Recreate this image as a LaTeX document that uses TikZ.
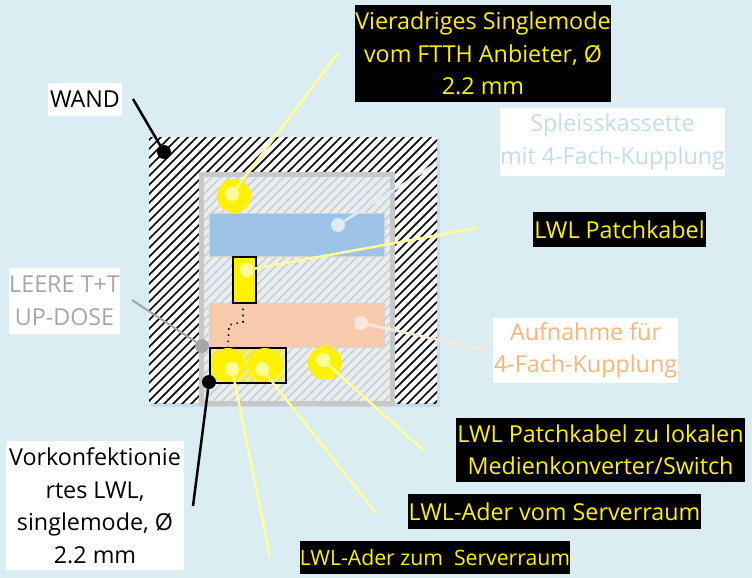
\documentclass[tikz,border=0pt]{standalone}
\usepackage{fontspec}
\setmainfont{Open Sans}
\usetikzlibrary{positioning}
\definecolor{bgblue}{HTML}{DAEDF3}
\definecolor{hatchbg}{HTML}{E6EEF2}
\definecolor{framegray}{HTML}{C8C8C8}
\definecolor{kassette}{HTML}{9DC3E6}
\definecolor{aufnahme}{HTML}{F8CBAD}
\definecolor{paleyellow}{HTML}{FFFF99}
\definecolor{paleblue}{HTML}{DEEBF3}
\begin{document}
\begin{tikzpicture}[
  x=1pt, y=-1pt,
  %% style definitions
  blackbox/.style = {fill=black, text=yellow, inner sep=0pt, align=center,
                     font=\fontsize{23.3}{32.5}\selectfont},
  whitebox/.style = {fill=white, inner sep=0pt, align=center,
                     font=\fontsize{23.3}{32.5}\selectfont},
  bigdot/.style   = {circle, fill=yellow, minimum size=34pt, inner sep=0pt},
  paledot/.style  = {circle, minimum size=14pt, inner sep=0pt},
  leader/.style   = {line width=2.5pt, paleyellow},
  tray/.style     = {draw=framegray!80, line width=.7pt},
  conn/.style     = {draw=black, line width=2pt, inner sep=0pt},
]

%% background
\fill[bgblue] (0,0) rectangle (752,578);
\useasboundingbox (0,0) rectangle (752,578);

%% wall with hatching
\fill[kassette!35!bgblue] (151,139) rectangle (440,407);
\fill[white] (149,137) rectangle (437,403);
\begin{scope}
  \clip (149,137) rectangle (437,403);
  \foreach \hx in {0,9,...,600}
    \draw[black, line width=1.6pt] (149+\hx,137-6) -- (149+\hx-280,137+274);
\end{scope}

%% socket, hatched inside
\fill[hatchbg] (201.5,174.5) rectangle (392.5,403.5);
\begin{scope}
  \clip (201.5,174.5) rectangle (392.5,403.5);
  \foreach \hx in {0,9,...,480}
    \draw[framegray, line width=1.3pt] (201+\hx,170) -- (201+\hx-240,410);
\end{scope}
\node[draw=framegray, line width=5pt, inner sep=0pt, minimum width=191pt, minimum height=229pt] (dose) at (297,289) {};

%% trays
\node[tray, fill=kassette, inner sep=0pt, minimum width=175pt, minimum height=43pt] (kassette) at (296.5,234.5) {};
\node[tray, fill=aufnahme, inner sep=0pt, minimum width=175pt, minimum height=44pt] (aufnahme) at (296.5,325) {};

%% cables and couplers
\node[conn, fill=yellow, minimum width=23pt, minimum height=46pt] (patch) at (244,279.5) {};
\node[conn, fill=yellow, fill opacity=.55, minimum width=76pt, minimum height=35pt] (ader) at (247.5,365) {};
\node[bigdot] (rundTop) at (234,196) {};
\node[bigdot] (rundA) at (228,365) {};
\node[bigdot] (rundB) at (265,365) {};
\node[bigdot] (rundC) at (325,363) {};
\draw[black, line width=1.6pt, dash pattern=on 1.6pt off 4.6pt] (patch.south) ++(-1,5) -- (243,322) -- (229,325) -- (228,347);

%% pale end dots
\node[paledot, fill=paleyellow] (dotTop) at (232,194) {};
\node[paledot, fill=paleyellow] (dotPatch) at (247,270) {};
\node[paledot, fill=paleyellow] (dotA) at (232,369) {};
\node[paledot, fill=paleyellow] (dotB) at (262,369) {};
\node[paledot, fill=paleyellow] (dotC) at (323,360) {};
\node[paledot, fill=paleblue] (dotKassette) at (338,225) {};
\node[paledot, fill=aufnahme!45!white] (dotAufnahme) at (361,323) {};
\node[paledot, fill=black] (dotWand) at (164,152) {};
\node[paledot, fill=black] (dotVorkonf) at (209,382) {};
\node[paledot, fill=black!35] (dotDose) at (202,346) {};

%% free ends of the leaders
\coordinate (endTop) at (338,53);
\coordinate (endKassette) at (437,163);
\coordinate (endPatch) at (477,228);
\coordinate (endAufnahme) at (485,350);
\coordinate (endC) at (423,450);
\coordinate (endB) at (377,514);
\coordinate (endA) at (270,557);
\coordinate (endWand) at (133,99);
\coordinate (endVorkonf) at (193,506);
\coordinate (endDose) at (132,300);

%% leaders
\draw[leader] (dotTop) -- (endTop);
\draw[leader] (dotPatch) -- (endPatch);
\draw[leader] (dotA) -- (endA);
\draw[leader] (dotB) -- (endB);
\draw[leader] (dotC) -- (endC);
\draw[leader, paleblue] (dotKassette) -- (endKassette);
\draw[leader, aufnahme!45!white] (dotAufnahme) -- (endAufnahme);
\draw[black, line width=2.5pt] (dotWand) -- (endWand);
\draw[black, line width=2.5pt] (dotVorkonf) -- (endVorkonf);
\draw[black!35, line width=2pt] (dotDose) -- (endDose);

%% labels
\node[blackbox, minimum width=256pt, minimum height=97pt] (lblVier) at (483,53.5)
  {Vieradriges Singlemode\\vom FTTH Anbieter, Ø\\2.2 mm};
\node[whitebox, text=kassette!60!white, minimum width=225pt, minimum height=68pt] (lblKassette) at (612.5,142)
  {Spleisskassette\\mit 4-Fach-Kupplung};
\node[blackbox, minimum width=173pt, minimum height=35pt] (lblPatch) at (619.5,229.5) {LWL Patchkabel};
\node[whitebox, text=aufnahme!70!orange, minimum width=185pt, minimum height=65pt] (lblAufnahme) at (585.5,350.5)
  {Aufnahme für\\4-Fach-Kupplung};
\node[blackbox, minimum width=289pt, minimum height=64pt] (lblLokal) at (600.5,450)
  {LWL Patchkabel zu lokalen\\Medienkonverter/Switch};
\node[blackbox, minimum width=293pt, minimum height=35pt] (lblVom) at (554.5,511.5) {LWL-Ader vom Serverraum};
\node[blackbox, font=\fontsize{21.2}{32}\selectfont, minimum width=270pt, minimum height=33pt] (lblZum) at (435,557.5) {LWL-Ader zum\ \ Serverraum};
\node[whitebox, minimum width=178pt, minimum height=129pt] (lblVorkonf) at (95,505.5)
  {Vorkonfektionie\\rtes LWL,\\singlemode, Ø\\2.2 mm};
\node[whitebox, text=black!35, minimum width=111pt, minimum height=66pt] (lblDose) at (64.5,301)
  {LEERE T+T\\UP-DOSE};
\node[whitebox, minimum width=74pt, minimum height=33pt] (lblWand) at (85,99.5) {WAND};

\end{tikzpicture}
\end{document}
